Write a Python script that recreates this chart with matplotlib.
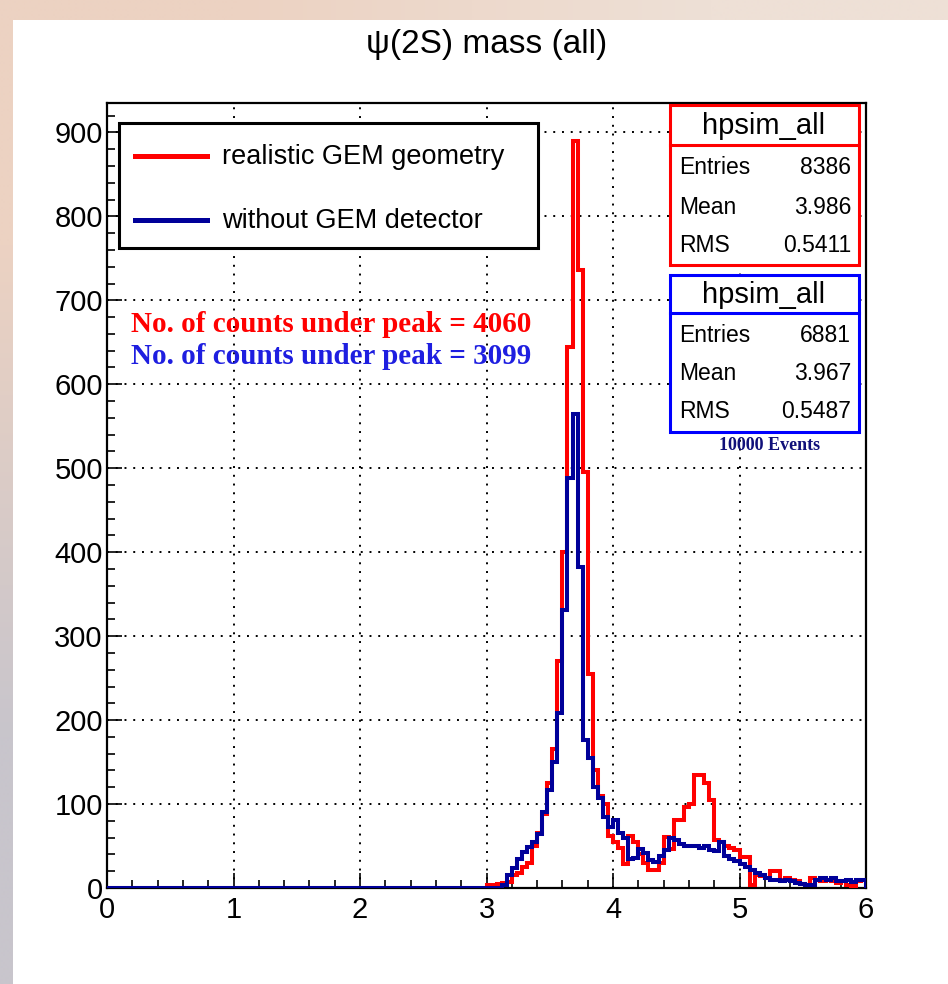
import numpy as np
import matplotlib
matplotlib.use("Agg")
import matplotlib.pyplot as plt
from matplotlib.patches import Rectangle
from matplotlib.lines import Line2D
from matplotlib.ticker import MultipleLocator

W, H = 948, 984

# histogram contents, 0.04 wide bins starting at 3.00 (everything below 3 is empty)
mass_start = 3.0
bin_width = 0.04
red_counts = [3, 4, 5, 6, 7, 15, 18, 25, 30, 50,
              65, 88, 125, 165, 270, 400, 644, 890, 736, 495,
              255, 140, 110, 100, 62, 55, 48, 28, 62, 55,
              40, 30, 22, 22, 30, 61, 47, 81, 81, 96,
              100, 135, 135, 125, 105, 57, 55, 50, 48, 45,
              37, 37, 3, 15, 14, 12, 20, 20, 10, 12,
              10, 8, 5, 4, 12, 10, 8, 10, 8, 6,
              8, 3, 2, 8, 10]
blue_counts = [0, 0, 0, 4, 15, 24, 35, 43, 49, 55,
               64, 90, 117, 150, 208, 331, 488, 565, 382, 176,
               155, 120, 107, 85, 73, 81, 65, 60, 35, 36,
               47, 42, 33, 31, 38, 45, 60, 57, 52, 50,
               50, 50, 48, 50, 45, 44, 55, 38, 35, 32,
               28, 25, 22, 18, 15, 12, 10, 10, 8, 10,
               8, 6, 5, 3, 4, 10, 12, 10, 12, 8,
               8, 10, 7, 9, 10]

legend_labels = ["realistic GEM geometry", "without GEM detector"]
stats_title = "hpsim_all"
stats_red = [("Entries", "8386"), ("Mean", "3.986"), ("RMS", "0.5411")]
stats_blue = [("Entries", "6881"), ("Mean", "3.967"), ("RMS", "0.5487")]
peak_red = 4060
peak_blue = 3099
n_events = 10000

RED = "#ff0000"
BLUE = "#000099"
SANS = "Liberation Sans"
SERIF = "Liberation Serif"


def fx(x):
    return x / W


def fy(y):
    return 1 - y / H


fig = plt.figure(figsize=(W / 100, H / 100), dpi=100)

# slide-like background: tinted border, white canvas
bg = fig.add_axes([0, 0, 1, 1])
bg.axis("off")
grad = np.array([[[236, 210, 194], [238, 224, 214]],
                 [[200, 197, 204], [236, 228, 224]]]) / 255.0
bg.imshow(grad, extent=[0, 1, 0, 1], aspect="auto", interpolation="bilinear")
bg.add_patch(Rectangle((fx(13), 0), 1 - fx(13), fy(20), facecolor="white", edgecolor="none"))
bg.set_xlim(0, 1)
bg.set_ylim(0, 1)

ax = fig.add_axes([fx(107), fy(888), fx(866) - fx(107), fy(103) - fy(888)])

edges = np.concatenate([[0.0], mass_start + bin_width * np.arange(len(red_counts) + 1)])
ax.stairs([0] + red_counts, edges, color=RED, lw=2.9, zorder=3)
ax.stairs([0] + blue_counts, edges, color=BLUE, lw=2.9, zorder=4)

ax.set_xlim(0, 6)
ax.set_ylim(0, 935)
ax.xaxis.set_major_locator(MultipleLocator(1))
ax.xaxis.set_minor_locator(MultipleLocator(0.2))
ax.yaxis.set_major_locator(MultipleLocator(100))
ax.yaxis.set_minor_locator(MultipleLocator(20))
ax.tick_params(which="both", direction="in", top=False, right=False, width=1.2)
ax.tick_params(which="major", length=11, labelsize=21)
ax.tick_params(which="minor", length=5.5)
ax.tick_params(axis="x", pad=6)
ax.tick_params(axis="y", pad=3)
for lab in ax.get_xticklabels() + ax.get_yticklabels():
    lab.set_fontfamily(SANS)
ax.grid(True, which="major", color="black", ls=(0, (1, 3.5)), lw=1.4)
ax.set_axisbelow(True)
for sp in ax.spines.values():
    sp.set_linewidth(1.6)

fig.text(fx(487), fy(44), "ψ(2S) mass (all)", ha="center", va="center",
         fontsize=24, family=SANS)

# legend box
fig.add_artist(Rectangle((fx(119), fy(248)), fx(538) - fx(119), fy(123) - fy(248),
                         transform=fig.transFigure, facecolor="white",
                         edgecolor="black", lw=2.2, zorder=5))
for yy, col, lab in [(156, RED, legend_labels[0]), (220, BLUE, legend_labels[1])]:
    fig.add_artist(Line2D([fx(135), fx(207)], [fy(yy), fy(yy)], transform=fig.transFigure,
                          color=col, lw=3.6, zorder=6))
    fig.text(fx(222), fy(yy + 1), lab, ha="left", va="center", fontsize=19.5,
             family=SANS, zorder=6)

# stat boxes
def stat_box(top, bottom, sep, col, rows, row_ys):
    fig.add_artist(Rectangle((fx(670), fy(bottom)), fx(859) - fx(670), fy(top) - fy(bottom),
                             transform=fig.transFigure, facecolor="white",
                             edgecolor=col, lw=2.2, zorder=5))
    fig.add_artist(Line2D([fx(670), fx(859)], [fy(sep), fy(sep)], transform=fig.transFigure,
                          color=col, lw=2.2, zorder=6))
    fig.text(fx(764), fy((top + sep) / 2 + 1), stats_title, ha="center", va="center",
             fontsize=21, family=SANS, zorder=6)
    for (name, val), yy in zip(rows, row_ys):
        fig.text(fx(679), fy(yy), name, ha="left", va="center", fontsize=16.5,
                 family=SANS, zorder=6)
        fig.text(fx(851), fy(yy), val, ha="right", va="center", fontsize=16.5,
                 family=SANS, zorder=6)


stat_box(105, 265, 145, RED, stats_red, [167, 208, 245])
stat_box(275, 432, 313, "#0000ff", stats_blue, [335, 374, 411])

fig.text(fx(770), fy(446), f"{n_events} Events", ha="center", va="center",
         fontsize=13, family=SERIF, weight="bold", color="#10107a")

fig.text(fx(131), fy(325), f"No. of counts under peak = {peak_red}", ha="left",
         va="center", fontsize=21, family=SERIF, weight="bold", color=RED)
fig.text(fx(131), fy(356), f"No. of counts under peak = {peak_blue}", ha="left",
         va="center", fontsize=21, family=SERIF, weight="bold", color="#1e1ee0")

fig.savefig("out.png", dpi=100)
